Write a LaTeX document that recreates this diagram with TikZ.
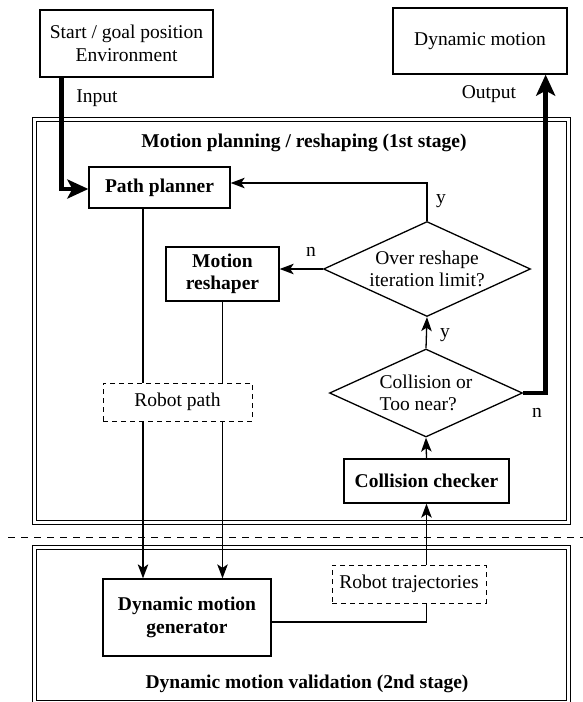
\documentclass[tikz,border=0pt]{standalone}
\usepackage{fontspec}
\setmainfont{Liberation Serif}
\usetikzlibrary{shapes,arrows.meta}
\newcommand{\figfont}{\fontsize{19.5}{22.5}\selectfont}

\begin{document}
\begin{tikzpicture}[x=1pt, y=-1pt, font=\figfont,
        >={Stealth[length=14pt, width=10.5pt, inset=3.5pt]},
        block/.style={draw, rectangle, line width=1.3pt, align=center, inner sep=0pt},
        pathbox/.style={draw, rectangle, dash pattern=on 5pt off 4pt, line width=1pt, inner sep=0pt},
        decision/.style={draw, diamond, line width=1.3pt, align=center, inner sep=0pt, aspect=2.2},
        stage/.style={draw, double, line width=1pt, double distance=3pt, inner sep=0pt},
        flow/.style={line width=1.3pt},
        io/.style={line width=4.5pt, -{Stealth[length=21pt, width=19pt, inset=5pt]}},
        answer/.style={inner sep=0pt}]
        \useasboundingbox (0,0) rectangle (583,702);

        \node [stage, minimum width=534pt, minimum height=402.5pt] (stage1) at (301,320.75) {};
        \node [stage, minimum width=534pt, minimum height=155pt] (stage2) at (301,624.5) {};
        \node [font=\figfont\bfseries] (title1) at (304,143) {Motion planning / reshaping (1st stage)};
        \node [font=\figfont\bfseries] (title2) at (307,683.5) {Dynamic motion validation (2nd stage)};

        \node [block, minimum width=173pt, minimum height=67pt] (start) at (126.5,43.5) {Start / goal position\\Environment};
        \node [block, minimum width=174pt, minimum height=66pt] (dyn) at (480,41) {Dynamic motion};

        \node [block, font=\figfont\bfseries, minimum width=141pt, minimum height=41pt] (planner) at (159.5,187.5) {Path planner};
        \node [block, font=\figfont\bfseries, minimum width=113pt, minimum height=54pt] (reshaper) at (222.5,274) {Motion\\reshaper};
        \node [decision, minimum width=207pt, minimum height=95pt] (limit) at (427,269) {Over reshape\\iteration limit?};
        \node [decision, align=left, minimum width=193pt, minimum height=88pt] (near) at (426,393) {Collision or\\Too near?};
        \node [block, font=\figfont\bfseries, minimum width=165pt, minimum height=44pt] (checker) at (426.5,481) {Collision checker};
        \node [pathbox, minimum width=149pt, minimum height=38pt] (path) at (177.5,402) {Robot path};

        \node [block, font=\figfont\bfseries, minimum width=168pt, minimum height=77pt] (generator) at (187,617.5) {Dynamic motion\\generator};
        \node [pathbox, minimum width=154pt, minimum height=38pt] (traj) at (409,584) {Robot trajectories};

        \node [answer] (inlabel) at (97,98) {Input};
        \node [answer] (outlabel) at (489,94) {Output};
        \node [answer] (limityes) at (441,201) {y};
        \node [answer] (limitno) at (311,252) {n};
        \node [answer] (nearyes) at (445,335) {y};
        \node [answer] (nearno) at (537,413) {n};

        \coordinate (sepleft) at (8,537);
        \coordinate (sepright) at (583,537);
        \coordinate (plannerout) at ([xshift=-16.5pt]planner.south);

        \draw [line width=1pt, dash pattern=on 7pt off 6pt] (sepleft) -- (sepright);

        \draw [io] ([xshift=22pt]start.south west) |- ([yshift=-1.5pt]planner.west);
        \draw [io] (near.east) -| ([xshift=-22pt]dyn.south east);
        \draw [flow, ->] (limit.north) |- ([yshift=4.5pt]planner.east);
        \draw [flow, ->] (limit.west) -- (limit.west -| reshaper.east);
        \draw [flow, ->] (near.north) -- (limit.south);
        \draw [flow, ->] (checker.north) -- (near.south);
        \draw [flow] (plannerout) -- (plannerout |- path.north);
        \draw [flow, ->] (plannerout |- path.south) -- (plannerout |- generator.north);
        \draw [flow] (reshaper.south) -- (reshaper.south |- path.north);
        \draw [flow, ->] (reshaper.south |- path.south) -- (reshaper.south |- generator.north);
        \draw [flow] ([yshift=-4.5pt]generator.east) -| (checker.south |- traj.south);
        \draw [flow, ->] (checker.south |- traj.north) -- (checker.south);
    \end{tikzpicture}
\end{document}
